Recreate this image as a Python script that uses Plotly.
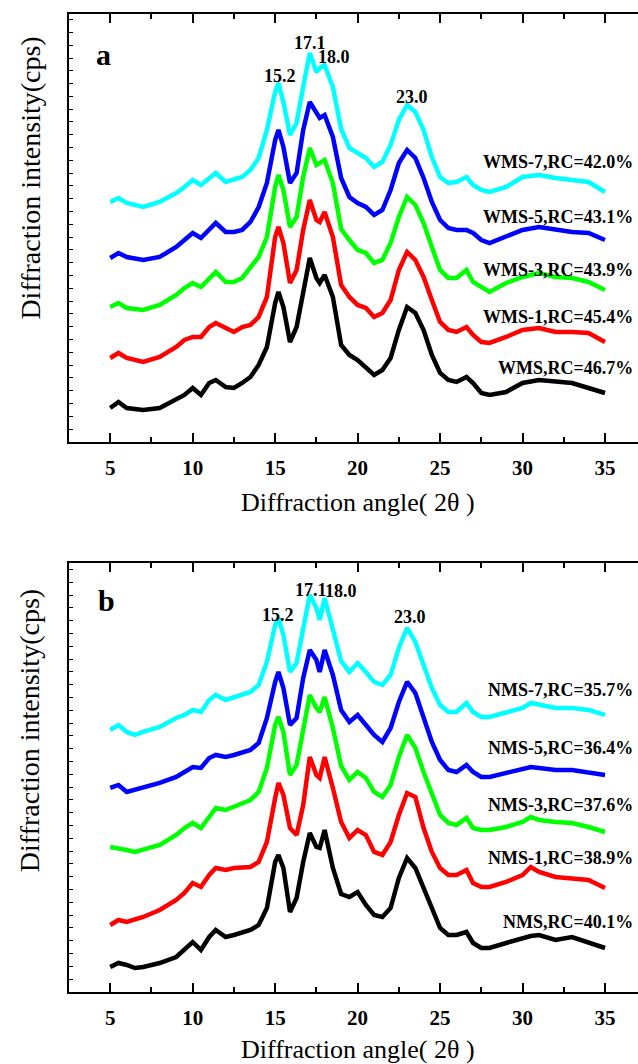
import plotly.graph_objects as go

# ---------------- data ----------------
THETA_A = [5, 5.5, 6, 7, 8, 9, 9.5, 10, 10.5, 11, 11.4, 12, 12.5, 13, 13.5, 14, 14.5, 15, 15.2, 15.5,
           15.9, 16.3, 16.7, 17.1, 17.5, 17.7, 18.0, 18.5, 19, 19.5, 20, 20.5, 21, 21.5, 22, 22.5, 23, 23.5,
           24, 24.5, 25, 25.5, 26, 26.6, 27, 27.5, 28, 29, 30, 31, 32, 33, 34, 35]

WMS = [34, 40, 34, 32, 34, 42, 47, 54, 47, 59, 62, 55, 54, 59, 65, 77, 95, 139, 150, 135,
       100, 115, 152, 184, 164, 159, 167, 145, 97, 87, 82, 75, 67, 72, 84, 112, 135, 129,
       112, 87, 69, 62, 60, 65, 59, 49, 47, 50, 59, 62, 60, 59, 54, 49]
WMS_1 = [84, 89, 84, 80, 85, 95, 102, 105, 105, 115, 119, 114, 110, 115, 117, 125, 145, 205, 215, 199,
         159, 172, 212, 242, 222, 220, 230, 205, 157, 145, 137, 134, 125, 129, 142, 172, 190, 182,
         165, 142, 120, 112, 110, 115, 107, 100, 99, 105, 112, 114, 110, 110, 109, 100]
WMS_3 = [135, 139, 134, 132, 137, 147, 154, 159, 155, 164, 170, 160, 160, 164, 174, 185, 205, 255, 267, 252,
         215, 225, 265, 294, 277, 279, 282, 259, 213, 202, 192, 189, 179, 182, 199, 225, 245, 237,
         219, 195, 172, 164, 164, 172, 160, 155, 150, 159, 165, 169, 165, 164, 160, 152]
WMS_5 = [184, 189, 185, 182, 185, 195, 202, 209, 204, 212, 219, 210, 210, 212, 220, 235, 259, 302, 312, 295,
         259, 269, 312, 340, 329, 324, 327, 305, 264, 245, 239, 235, 227, 232, 252, 279, 292, 284,
         264, 240, 222, 214, 212, 212, 209, 202, 199, 205, 212, 215, 212, 210, 209, 202]
WMS_7 = [240, 244, 239, 235, 240, 249, 255, 262, 257, 264, 269, 260, 262, 265, 272, 284, 312, 350, 359, 340,
         307, 319, 355, 389, 370, 374, 377, 355, 313, 294, 289, 284, 275, 280, 297, 322, 337, 330,
         312, 285, 265, 259, 260, 265, 257, 252, 250, 255, 265, 267, 264, 262, 260, 250]

THETA_B = [5, 5.5, 6, 6.5, 7, 8, 9, 9.5, 10, 10.5, 11, 11.4, 12, 12.5, 13, 13.5, 14, 14.5, 15, 15.2,
           15.5, 15.9, 16.3, 16.7, 17.1, 17.5, 17.7, 18.0, 18.5, 19, 19.5, 20, 20.5, 21, 21.5, 22, 22.5,
           23, 23.5, 24, 24.5, 25, 25.5, 26, 26.6, 27, 27.5, 28, 29, 30, 30.5, 31, 32, 33, 34, 35]

NMS = [25, 29, 27, 24, 25, 29, 35, 42, 50, 42, 55, 62, 55, 57, 59, 62, 67, 84, 130, 137,
       124, 80, 94, 130, 159, 145, 144, 162, 124, 98, 95, 100, 87, 77, 75, 84, 114,
       134, 124, 104, 84, 64, 57, 57, 60, 49, 44, 44, 49, 54, 56, 57, 52, 55, 50, 44]
NMS_1 = [67, 72, 70, 72, 75, 82, 92, 99, 109, 105, 117, 124, 122, 124, 124, 125, 130, 150, 194, 209,
         197, 164, 157, 187, 235, 217, 214, 235, 204, 170, 154, 162, 157, 140, 137, 150, 177,
         199, 195, 164, 140, 124, 117, 117, 122, 109, 105, 105, 110, 117, 125, 120, 115, 114, 112, 104]
NMS_3 = [145, 144, 142, 140, 142, 147, 157, 164, 169, 164, 175, 184, 182, 185, 189, 192, 200, 224, 267, 275,
         260, 217, 227, 264, 297, 284, 280, 295, 264, 226, 212, 220, 214, 200, 195, 207, 235,
         257, 244, 220, 197, 177, 169, 167, 174, 164, 162, 162, 165, 170, 175, 172, 170, 169, 165, 160]
NMS_5 = [204, 207, 200, 202, 204, 209, 215, 220, 225, 224, 234, 237, 235, 237, 239, 242, 249, 274, 310, 320,
         304, 267, 274, 314, 342, 332, 320, 342, 317, 282, 270, 277, 267, 257, 250, 264, 290,
         310, 299, 274, 250, 232, 222, 220, 227, 220, 215, 215, 219, 222, 225, 224, 222, 222, 220, 217]
NMS_7 = [262, 267, 260, 257, 260, 265, 274, 277, 282, 280, 292, 297, 292, 295, 297, 300, 307, 330, 367, 374,
         357, 320, 329, 364, 397, 384, 372, 394, 364, 331, 320, 329, 320, 310, 307, 317, 344,
         364, 350, 327, 304, 287, 280, 280, 289, 280, 275, 275, 279, 284, 289, 287, 284, 284, 282, 277]

LABELS_A = ["WMS,RC=46.7%", "WMS-1,RC=45.4%", "WMS-3,RC=43.9%", "WMS-5,RC=43.1%", "WMS-7,RC=42.0%"]
LABELS_B = ["NMS,RC=40.1%", "NMS-1,RC=38.9%", "NMS-3,RC=37.6%", "NMS-5,RC=36.4%", "NMS-7,RC=35.7%"]
LABEL_Y_A = [74, 125, 172, 225, 280]
LABEL_Y_B = [70, 134, 187, 244, 302]
PEAKS = ["15.2", "17.1", "18.0", "23.0"]
PEAK_POS_A = [(15.3, 366), (17.12, 399), (18.55, 385), (23.3, 345)]
PEAK_POS_B = [(15.18, 377), (17.18, 402), (19.0, 401), (23.18, 375)]
X_TICKS = [5, 10, 15, 20, 25, 30, 35]
COLORS = ["#000000", "#FF0000", "#00FF00", "#0000FF", "#00FFFF"]

SERIF = "Liberation Serif"

fig = go.Figure()
for ys, c, name in zip([WMS, WMS_1, WMS_3, WMS_5, WMS_7], COLORS, LABELS_A):
    fig.add_trace(go.Scatter(x=THETA_A, y=ys, mode="lines", name=name,
                             line=dict(color=c, width=4.5), xaxis="x", yaxis="y"))
for ys, c, name in zip([NMS, NMS_1, NMS_3, NMS_5, NMS_7], COLORS, LABELS_B):
    fig.add_trace(go.Scatter(x=THETA_B, y=ys, mode="lines", name=name,
                             line=dict(color=c, width=4.5), xaxis="x2", yaxis="y2"))

xcommon = dict(range=[2.5, 37], tickvals=X_TICKS, ticks="inside", ticklen=9, tickwidth=1.5,
               tickcolor="black", showline=True, linecolor="black", linewidth=2, mirror="ticks",
               showgrid=False, zeroline=False,
               tickfont=dict(family=SERIF, size=21, color="black", weight="bold"),
               minor=dict(tickvals=[7.5, 12.5, 17.5, 22.5, 27.5, 32.5], ticks="inside",
                          ticklen=5, tickwidth=1.5, tickcolor="black"),
               ticklabelstandoff=6)
ycommon = dict(showticklabels=False, ticks="inside", ticklen=4, tickwidth=1, tickcolor="black",
               tick0=0, dtick=12.8, showline=True, linecolor="black", linewidth=2,
               showgrid=False, zeroline=False)

fig.update_layout(
    width=638, height=1064,
    margin=dict(l=69, r=0, t=14, b=72),
    paper_bgcolor="white", plot_bgcolor="white",
    showlegend=False,
    xaxis=dict(anchor="y", domain=[0, 1], **xcommon),
    yaxis=dict(anchor="x", domain=[0.5624, 1.0], range=[0, 428], **ycommon),
    xaxis2=dict(anchor="y2", domain=[0, 1], **xcommon),
    yaxis2=dict(anchor="x2", domain=[0, 0.4387], range=[0, 429], **ycommon),
)

ann = []
for txt, y in zip(LABELS_A, LABEL_Y_A):
    ann.append(dict(x=36.8, y=y, xref="x", yref="y", text=txt, showarrow=False, xanchor="right",
                    yanchor="middle",
                    font=dict(family=SERIF, size=18, color="black", weight="bold")))
for txt, y in zip(LABELS_B, LABEL_Y_B):
    ann.append(dict(x=36.8, y=y, xref="x2", yref="y2", text=txt, showarrow=False, xanchor="right",
                    yanchor="middle",
                    font=dict(family=SERIF, size=18, color="black", weight="bold")))
for txt, (px, py) in zip(PEAKS, PEAK_POS_A):
    ann.append(dict(x=px, y=py, xref="x", yref="y", text=txt, showarrow=False,
                    xanchor="center", yanchor="middle",
                    font=dict(family=SERIF, size=18, color="black", weight="bold")))
for txt, (px, py) in zip(PEAKS, PEAK_POS_B):
    ann.append(dict(x=px, y=py, xref="x2", yref="y2", text=txt, showarrow=False,
                    xanchor="center", yanchor="middle",
                    font=dict(family=SERIF, size=18, color="black", weight="bold")))
ann.append(dict(x=4.6, y=388, xref="x", yref="y", text="a", showarrow=False,
                xanchor="center", yanchor="middle",
                font=dict(family=SERIF, size=30, color="black", weight="bold")))
ann.append(dict(x=4.75, y=391, xref="x2", yref="y2", text="b", showarrow=False,
                xanchor="center", yanchor="middle",
                font=dict(family=SERIF, size=30, color="black", weight="bold")))
# axis titles
for ypos in [0.501, -0.0585]:
    ann.append(dict(x=0.508, y=ypos, xref="paper", yref="paper", text="Diffraction angle( 2θ )",
                    showarrow=False, xanchor="center", yanchor="middle",
                    font=dict(family=SERIF, size=26, color="black")))
for ypos in [0.832, 0.267]:
    ann.append(dict(x=-0.068, y=ypos, xref="paper", yref="paper", text="Diffraction intensity(cps)",
                    showarrow=False, textangle=-90, xanchor="center", yanchor="middle",
                    font=dict(family=SERIF, size=28, color="black")))
fig.update_layout(annotations=ann)

fig.write_html("out.html", config={"displayModeBar": False},
               post_script="document.body.style.margin='0px';document.body.style.overflow='hidden';")
